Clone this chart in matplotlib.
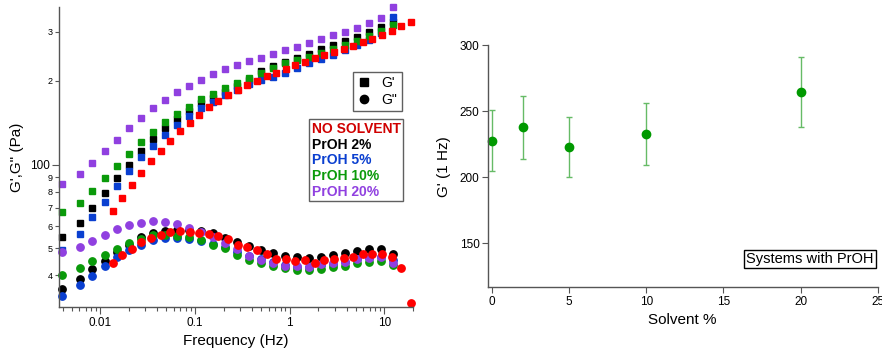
import matplotlib
matplotlib.use("Agg")
import matplotlib.pyplot as plt
from matplotlib.ticker import FixedLocator, FixedFormatter, NullFormatter, LogLocator
from matplotlib.lines import Line2D

plt.rcParams["font.family"] = ["Liberation Sans", "DejaVu Sans"]

# frequency sweeps (Hz)
freq_proh = [0.0039, 0.0061, 0.0082, 0.0111, 0.0149, 0.020, 0.0267, 0.0357, 0.0479, 0.0641,
             0.0858, 0.115, 0.154, 0.206, 0.276, 0.370, 0.495, 0.663, 0.889, 1.19,
             1.60, 2.14, 2.86, 3.83, 5.13, 6.87, 9.20, 12.3]
freq_nosolv = [0.0135, 0.0171, 0.0215, 0.0272, 0.0344, 0.0435, 0.055, 0.0693, 0.0877, 0.111,
               0.140, 0.177, 0.223, 0.283, 0.357, 0.451, 0.570, 0.719, 0.910, 1.15,
               1.45, 1.84, 2.32, 2.93, 3.70, 4.68, 5.92, 7.46, 9.44, 11.9, 15.1, 19.0]

# storage modulus G' (Pa)
gp_nosolv = [68.0, 75.9, 84.7, 93.2, 102.8, 111.8, 122.0, 132.2, 141.3, 151.0,
             160.9, 169.9, 178.6, 185.7, 193.5, 200.5, 208.0, 214.2, 221.5, 228.4,
             234.1, 241.4, 248.1, 253.7, 260.7, 268.0, 275.6, 283.3, 292.8, 302.0, 315.5, 326.9]
gp_proh2 = [55.1, 61.8, 70.0, 79.1, 89.4, 99.9, 111.7, 123.4, 135.2, 145.7,
            156.1, 166.3, 174.2, 182.2, 192.4, 201.7, 217.8, 225.9, 234.1, 241.4,
            250.2, 260.1, 269.5, 278.6, 288.7, 299.4, 313.6, 325.3]
gp_proh5 = [49.3, 56.5, 64.9, 73.6, 84.1, 94.5, 106.1, 116.8, 128.2, 138.9,
            149.7, 159.6, 168.5, 178.1, 185.7, 194.6, 201.7, 207.3, 214.2, 222.2,
            231.6, 239.0, 248.1, 258.6, 268.4, 280.9, 297.7, 339.0]
gp_proh10 = [67.6, 73.0, 80.2, 89.6, 98.7, 109.0, 120.4, 131.1, 142.1, 151.8,
             161.7, 171.9, 180.1, 188.4, 196.4, 205.0, 214.2, 222.2, 231.6, 238.0,
             244.0, 251.2, 259.6, 268.4, 278.6, 290.4, 302.7, 318.1]
gp_proh20 = [85.0, 92.2, 101.0, 111.7, 123.0, 135.2, 146.9, 160.0, 170.9, 182.9,
             191.9, 202.2, 211.4, 220.4, 228.4, 235.5, 242.6, 250.8, 258.6, 265.8,
             274.7, 282.5, 292.1, 300.9, 311.1, 323.4, 337.9, 368.3]

# loss modulus G'' (Pa)
gpp_nosolv = [44.2, 47.3, 49.9, 52.6, 54.4, 55.9, 57.1, 57.5, 57.3, 56.9,
              56.2, 55.4, 54.0, 51.4, 50.7, 49.3, 47.9, 45.8, 45.8, 45.2,
              45.4, 44.4, 45.4, 45.8, 46.3, 46.7, 47.6, 47.7, 47.7, 46.7, 42.4, 31.7]
gpp_proh2 = [35.6, 38.7, 42.0, 45.1, 48.4, 51.5, 54.7, 57.0, 57.7, 58.2,
             58.0, 57.5, 56.6, 54.6, 52.8, 51.0, 49.3, 48.0, 47.0, 46.7,
             46.3, 46.7, 47.3, 48.3, 48.9, 49.6, 49.8, 47.7]
gpp_proh5 = [33.7, 36.8, 39.9, 43.1, 46.4, 49.3, 51.4, 53.4, 54.3, 54.5,
             54.0, 53.1, 51.8, 50.4, 48.5, 47.0, 45.6, 44.7, 43.6, 43.0,
             42.9, 43.4, 43.9, 44.7, 45.6, 46.2, 46.6, 45.4]
gpp_proh10 = [40.0, 42.4, 44.9, 47.5, 49.9, 52.4, 54.2, 55.8, 55.7, 55.6,
              54.8, 53.6, 51.4, 50.0, 47.3, 45.4, 44.2, 43.3, 42.4, 41.8,
              41.7, 42.2, 42.7, 43.2, 44.4, 44.8, 45.2, 43.6]
gpp_proh20 = [48.6, 50.6, 53.0, 55.8, 58.5, 60.7, 61.8, 62.6, 62.1, 61.1,
              59.2, 57.4, 54.8, 52.4, 49.8, 47.1, 45.5, 44.2, 43.2, 43.2,
              43.0, 43.8, 44.2, 44.8, 45.7, 46.3, 46.4, 44.2]

# G' at 1 Hz vs solvent content
solvent_pct = [0, 2, 5, 10, 20]
gp_1hz = [227.7, 237.9, 223.0, 232.8, 264.8]
gp_1hz_err = [23.0, 23.7, 22.5, 23.3, 26.5]

series_names = ["NO SOLVENT", "PrOH 2%", "PrOH 5%", "PrOH 10%", "PrOH 20%"]
series_colors = ["#FF0000", "#000000", "#0A3FD0", "#0A9A0A", "#9040E0"]
label_colors = ["#D00000", "#000000", "#0A3FD0", "#0A9A0A", "#9040E0"]

SPINE = "#555555"

fig = plt.figure(figsize=(8.82, 3.5), dpi=100)

# ---------- left panel: frequency sweep ----------
ax1 = fig.add_axes([0.06735, 0.12286, 0.40079, 0.85714])

# draw order: black, blue, green, purple, red on top
draw = [
    (freq_proh, gp_proh2, gpp_proh2, series_colors[1]),
    (freq_proh, gp_proh5, gpp_proh5, series_colors[2]),
    (freq_proh, gp_proh10, gpp_proh10, series_colors[3]),
    (freq_proh, gp_proh20, gpp_proh20, series_colors[4]),
    (freq_nosolv, gp_nosolv, gpp_nosolv, series_colors[0]),
]
for f, gp, gpp, c in draw:
    ax1.plot(f, gp, ls="none", marker="s", ms=5, color=c, mec=c, clip_on=False)
    ax1.plot(f, gpp, ls="none", marker="o", ms=5.3, color=c, mec=c, clip_on=False)

ax1.set_xscale("log")
ax1.set_yscale("log")
ax1.set_xlim(0.0037, 20)
ax1.set_ylim(30.76, 369)

ax1.xaxis.set_major_locator(FixedLocator([0.01, 0.1, 1, 10]))
ax1.xaxis.set_major_formatter(FixedFormatter(["0.01", "0.1", "1", "10"]))
ax1.xaxis.set_minor_locator(LogLocator(base=10, subs=range(2, 10)))
ax1.xaxis.set_minor_formatter(NullFormatter())

ax1.yaxis.set_major_locator(FixedLocator([100]))
ax1.yaxis.set_major_formatter(FixedFormatter(["100"]))
ax1.yaxis.set_minor_locator(FixedLocator([40, 50, 60, 70, 80, 90, 200, 300]))
ax1.yaxis.set_minor_formatter(FixedFormatter(["4", "5", "6", "7", "8", "9", "2", "3"]))

ax1.tick_params(which="major", length=5, width=0.8, color=SPINE, labelsize=8.5, pad=2)
ax1.tick_params(which="minor", length=3, width=0.8, color=SPINE, pad=2)
ax1.tick_params(axis="y", which="minor", labelsize=6.5)
for s in ["top", "right"]:
    ax1.spines[s].set_visible(False)
for s in ["left", "bottom"]:
    ax1.spines[s].set_color(SPINE)
    ax1.spines[s].set_linewidth(1.0)

ax1.set_xlabel("Frequency (Hz)", fontsize=11, labelpad=4)
ax1.set_ylabel("G',G\" (Pa)", fontsize=11, labelpad=4)

mod_handles = [
    Line2D([], [], ls="none", marker="s", ms=6, color="black"),
    Line2D([], [], ls="none", marker="o", ms=6, color="black"),
]
leg1 = ax1.legend(mod_handles, ["G'", "G\""], loc="upper right",
                  bbox_to_anchor=(0.968, 0.784), borderaxespad=0, fontsize=10,
                  fancybox=False, framealpha=1, edgecolor="#606060",
                  handlelength=1.0, handletextpad=0.8, borderpad=0.3,
                  labelspacing=0.2)
leg1.get_frame().set_linewidth(1.0)
ax1.add_artist(leg1)

blank = [Line2D([], [], ls="none") for _ in series_names]
leg2 = ax1.legend(blank, series_names, loc="upper right",
                  bbox_to_anchor=(0.973, 0.626), borderaxespad=0,
                  prop={"weight": "bold", "size": 10}, labelcolor=label_colors,
                  fancybox=False, framealpha=1, edgecolor="#606060",
                  handlelength=0, handletextpad=0, borderpad=0.2,
                  labelspacing=0.12)
leg2.get_frame().set_linewidth(1.0)

# ---------- right panel: G' at 1 Hz ----------
ax2 = fig.add_axes([0.55306, 0.17914, 0.44206, 0.69143])
ax2.errorbar(solvent_pct, gp_1hz, yerr=gp_1hz_err, fmt="o", ms=6,
             color="#009900", ecolor="#66BB66", elinewidth=1.0,
             capsize=2, capthick=1.0, clip_on=False)
ax2.set_xlim(-0.27, 25)
ax2.set_ylim(116.7, 300)
ax2.set_xticks([0, 5, 10, 15, 20, 25])
ax2.set_yticks([150, 200, 250, 300])
ax2.tick_params(length=4, width=0.8, color=SPINE, labelsize=8.5, pad=2)
for s in ["top", "right"]:
    ax2.spines[s].set_visible(False)
for s in ["left", "bottom"]:
    ax2.spines[s].set_color(SPINE)
    ax2.spines[s].set_linewidth(1.0)
ax2.set_xlabel("Solvent %", fontsize=11, labelpad=4)
ax2.set_ylabel("G' (1 Hz)", fontsize=11, labelpad=6)

ax2.text(0.826, 0.117, "Systems with PrOH", transform=ax2.transAxes,
         ha="center", va="center", fontsize=10.5,
         bbox=dict(boxstyle="square,pad=0.15", fc="white", ec="black", lw=1.0))

plt.savefig("out.png", dpi=100)
plt.close()
